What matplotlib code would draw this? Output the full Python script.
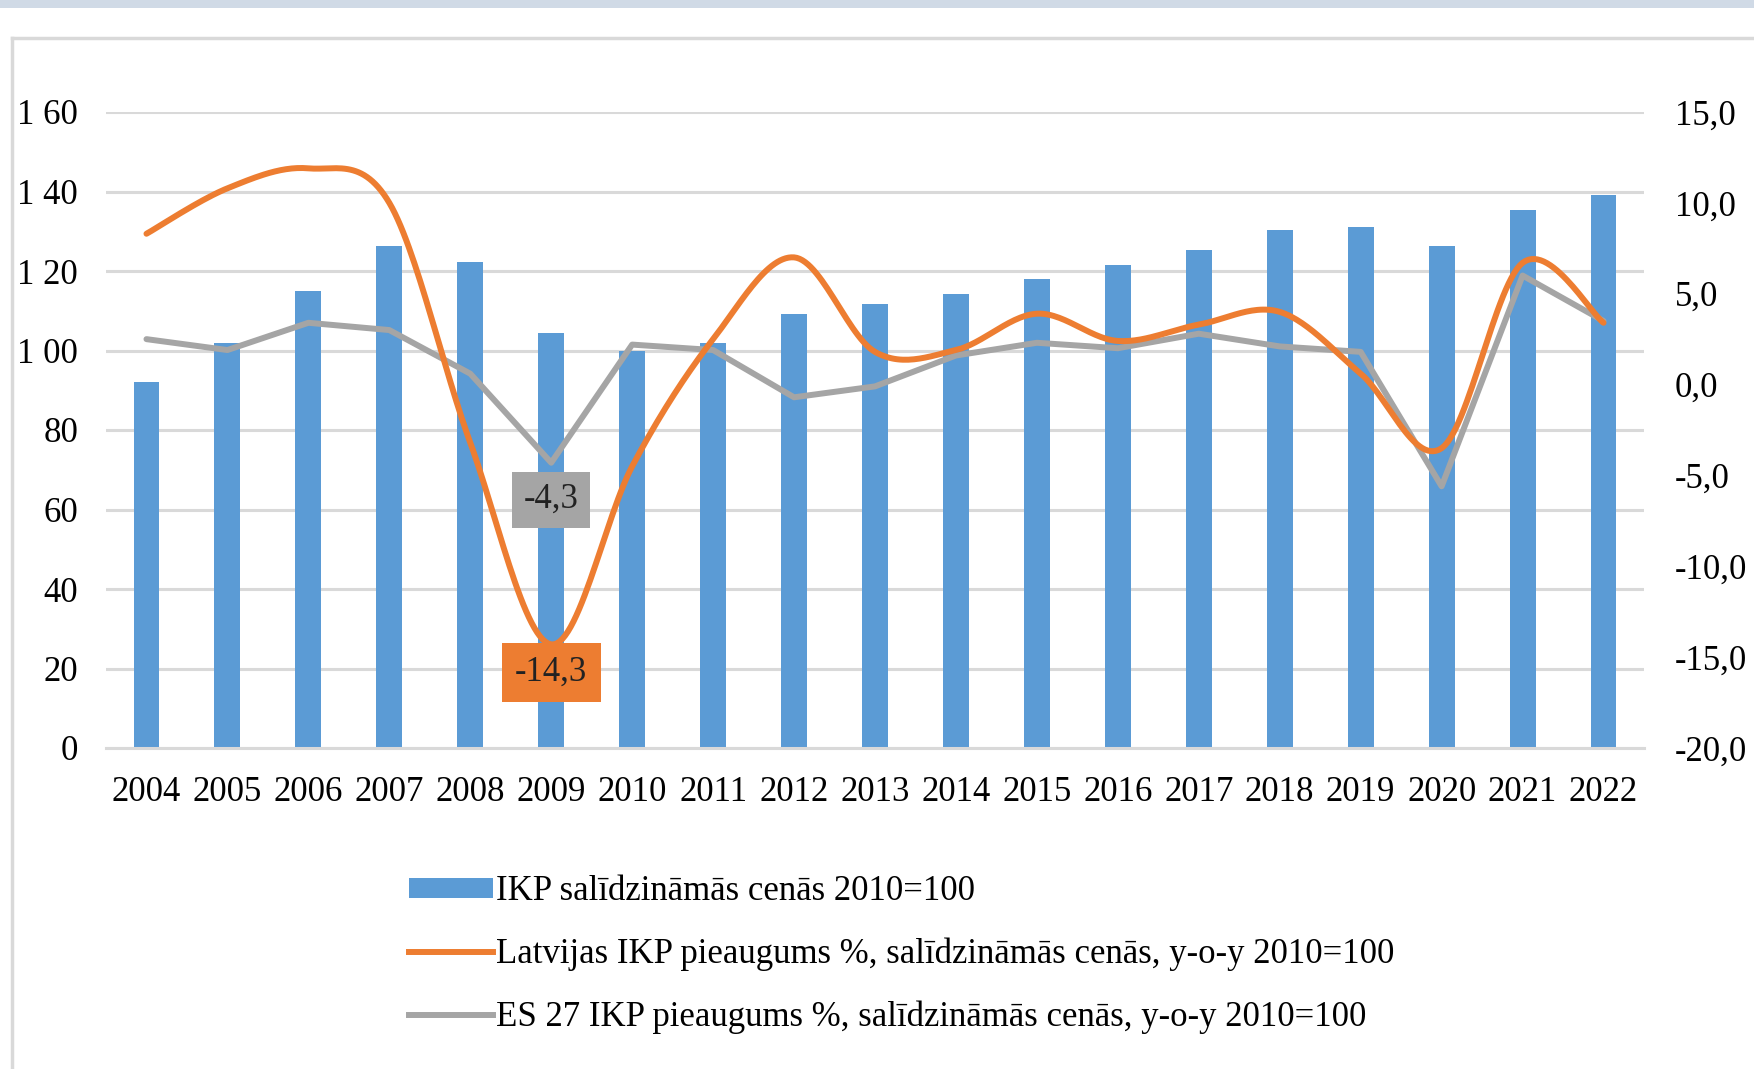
import numpy as np
import matplotlib
matplotlib.use("Agg")
import matplotlib.pyplot as plt
from matplotlib.patches import Rectangle
from matplotlib.lines import Line2D

plt.rcParams['font.family'] = ['Liberation Serif', 'DejaVu Serif']

years = [str(y) for y in range(2004, 2023)]
ikp_index = [92.2, 101.8, 115.0, 126.3, 122.3, 104.3, 100.0, 101.8, 109.1, 111.6,
             114.2, 118.1, 121.5, 125.4, 130.2, 131.0, 126.3, 135.3, 139.2]
lv_growth = [8.3, 10.8, 11.9, 10.0, -3.2, -14.3, -4.5, 2.5, 7.0, 1.8,
             1.9, 3.9, 2.4, 3.3, 4.0, 0.6, -3.5, 6.7, 3.4]
eu_growth = [2.5, 1.9, 3.4, 3.0, 0.6, -4.3, 2.2, 1.9, -0.7, -0.1,
             1.6, 2.3, 2.0, 2.8, 2.1, 1.8, -5.6, 6.0, 3.5]
left_ticks = [0, 20, 40, 60, 80, 100, 120, 140, 160]
left_labels = ["0", "20", "40", "60", "80", "1 00", "1 20", "1 40", "1 60"]
right_ticks = [-20, -15, -10, -5, 0, 5, 10, 15]
right_labels = ["-20,0", "-15,0", "-10,0", "-5,0", "0,0", "5,0", "10,0", "15,0"]
legend_labels = ["IKP salīdzināmās cenās 2010=100",
                 "Latvijas IKP pieaugums %, salīdzināmās cenās, y-o-y 2010=100",
                 "ES 27 IKP pieaugums %, salīdzināmās cenās, y-o-y 2010=100"]

BLUE = "#5b9bd5"
ORANGE = "#ed7d31"
GRAY = "#a5a5a5"
GRID = "#d9d9d9"
FS = 25


def smooth(y, n=30):
    # excel-like smoothed line (catmull-rom bezier)
    y = np.asarray(y, float)
    x = np.arange(len(y), dtype=float)
    px = np.concatenate([[x[0]], x, [x[-1]]])
    py = np.concatenate([[y[0]], y, [y[-1]]])
    xs, ys = [], []
    t = np.linspace(0, 1, n)
    for i in range(len(y) - 1):
        p0 = np.array([px[i], py[i]])
        p1 = np.array([px[i + 1], py[i + 1]])
        p2 = np.array([px[i + 2], py[i + 2]])
        p3 = np.array([px[i + 3], py[i + 3]])
        c1 = p1 + (p2 - p0) / 6
        c2 = p2 - (p3 - p1) / 6
        b = ((1 - t) ** 3)[:, None] * p1 + (3 * (1 - t) ** 2 * t)[:, None] * c1 \
            + (3 * (1 - t) * t ** 2)[:, None] * c2 + (t ** 3)[:, None] * p2
        xs.extend(b[:, 0])
        ys.extend(b[:, 1])
    return np.array(xs), np.array(ys)


fig = plt.figure(figsize=(17.54, 10.69), dpi=100)

# top band and outer frame
fig.add_artist(Rectangle((0, 1 - 8 / 1069), 1, 8 / 1069, transform=fig.transFigure,
                         facecolor="#d0dae6", edgecolor="none"))
fig.add_artist(Line2D([12 / 1754, 12 / 1754], [0, 1 - 38 / 1069], transform=fig.transFigure,
                      color=GRID, lw=2.5))
fig.add_artist(Line2D([12 / 1754, 1], [1 - 38 / 1069, 1 - 38 / 1069], transform=fig.transFigure,
                      color=GRID, lw=2.5))

ax = fig.add_axes([106 / 1754, 1 - 748 / 1069, (1644 - 106) / 1754, (748 - 112) / 1069])
x = np.arange(len(years))
ax.bar(x, ikp_index, width=0.32, color=BLUE, zorder=2)
ax.set_xlim(-0.5, len(years) - 0.5)
ax.set_ylim(0, 160)
ax.set_yticks(left_ticks)
ax.set_yticklabels(left_labels)
ax.set_xticks(x)
ax.set_xticklabels(years)
ax.grid(axis='y', color=GRID, lw=2.2, zorder=0)
ax.set_axisbelow(True)
for s in ["top", "right", "left"]:
    ax.spines[s].set_visible(False)
ax.spines["bottom"].set_color(GRID)
ax.spines["bottom"].set_linewidth(2.2)
ax.tick_params(axis='both', length=0, labelsize=FS)
ax.tick_params(axis='y', pad=20)
ax.tick_params(axis='x', pad=20)

ax2 = ax.twinx()
ax2.set_ylim(-20, 15)
ax2.set_yticks(right_ticks)
ax2.set_yticklabels(right_labels)
ax2.tick_params(axis='y', length=0, labelsize=FS, pad=22)
for s in ax2.spines.values():
    s.set_visible(False)

sx, sy = smooth(lv_growth)
ax2.plot(sx, sy, color=ORANGE, lw=4.3, solid_capstyle='round', zorder=4)
ax2.plot(x, eu_growth, color=GRAY, lw=4.3, solid_capstyle='round', zorder=3)

i09 = years.index("2009")
ax2.annotate("-4,3", (i09, eu_growth[i09]), xytext=(0, -37), textcoords='offset pixels',
             ha='center', va='center', fontsize=FS, color="#222222",
             bbox=dict(boxstyle='square,pad=0.33', fc=GRAY, ec='none'), zorder=6)
ax2.annotate("-14,3", (i09, lv_growth[i09]), xytext=(0, -28), textcoords='offset pixels',
             ha='center', va='center', fontsize=FS, color="#222222",
             bbox=dict(boxstyle='square,pad=0.38', fc=ORANGE, ec='none'), zorder=6)

handles = [Rectangle((0, 0), 1, 1, fc=BLUE, ec='none'),
           Line2D([], [], color=ORANGE, lw=4.3),
           Line2D([], [], color=GRAY, lw=4.3)]
fig.legend(handles, legend_labels, loc='upper left', bbox_to_anchor=(378 / 1754, 1 - 844 / 1069),
           frameon=False, fontsize=FS, handlelength=2.4, handleheight=0.5, handletextpad=0.1,
           labelspacing=0.85)

fig.savefig("out.png", dpi=100)
